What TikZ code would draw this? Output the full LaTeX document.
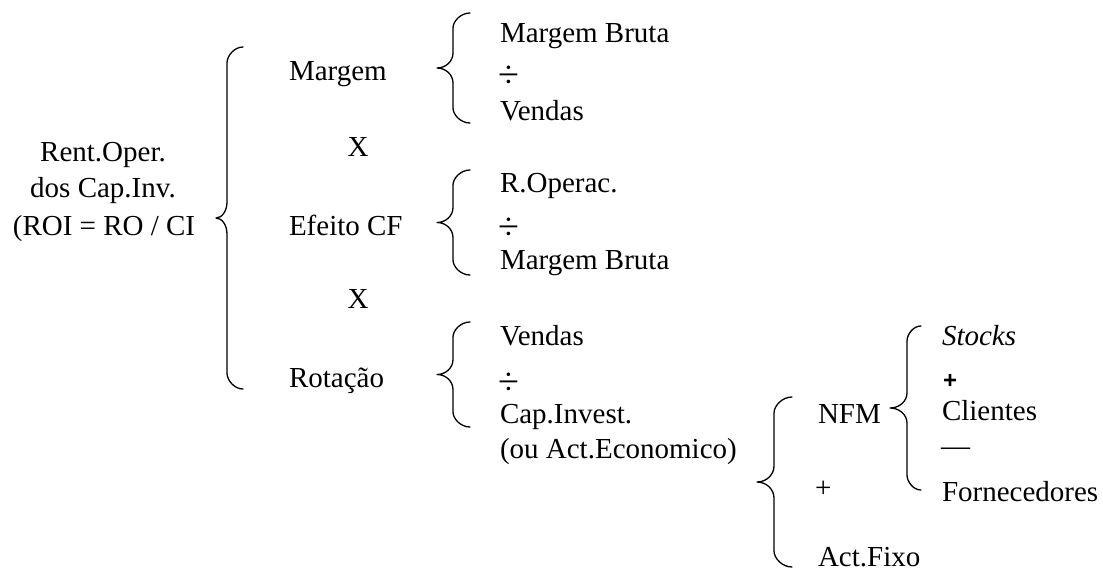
\documentclass[tikz,border=0pt]{standalone}
\usepackage{fontspec}
\setmainfont{Liberation Serif}
\newfontfamily\plusfont{Liberation Sans}
\newcommand{\wbrace}[6]{%
  \draw[braceline] (#1,#4) .. controls ({#2+0.45*(#1-#2)},#4) and (#2,{#4+0.55*#6}) .. (#2,{#4+#6})
    -- (#2,{(#4+#5)/2-#6})
    .. controls (#2,{(#4+#5)/2-0.45*#6}) and ({#3+0.55*(#2-#3)},{(#4+#5)/2}) .. (#3,{(#4+#5)/2})
    .. controls ({#3+0.55*(#2-#3)},{(#4+#5)/2}) and (#2,{(#4+#5)/2+0.45*#6}) .. (#2,{(#4+#5)/2+#6})
    -- (#2,{#5-#6})
    .. controls (#2,{#5-0.55*#6}) and ({#2+0.45*(#1-#2)},#5) .. (#1,#5);}
\begin{document}
\begin{tikzpicture}[x=1pt,y=-1pt,
  braceline/.style={line width=1.3pt,line cap=round,line join=round},
  lbl/.style={inner sep=0pt,outer sep=0pt,font=\fontsize{29}{35}\selectfont,anchor=base west},
  ctr/.style={lbl,anchor=base},
  divsign/.style={inner sep=0pt,outer sep=0pt,font=\fontsize{38}{40}\selectfont,anchor=west}]
\useasboundingbox (0,0) rectangle (1103,571);
% left title
\node[ctr] (t1) at (103,161) {Rent.Oper.};
\node[ctr] (t2) at (103,197) {dos Cap.Inv.};
\node[ctr] (t3) at (104,235) {(ROI = RO / CI};
% main brace
\wbrace{243}{227}{216}{47}{389}{16}
\node[lbl] (mg) at (289,80) {Margem};
\node[ctr] (x1) at (358,156) {X};
\node[lbl] (ef) at (289,235) {Efeito CF};
\node[ctr] (x2) at (358,308) {X};
\node[lbl] (ro) at (289,387) {Rotação};
% Margem brace
\wbrace{470}{453}{437}{13}{123}{15}
\node[lbl] (a1) at (500,42) {Margem Bruta};
\node[divsign] (a2) at (498,77) {÷};
\node[lbl] (a3) at (500,120) {Vendas};
% Efeito CF brace
\wbrace{470}{453}{437}{170}{275}{15}
\node[lbl] (b1) at (500,192) {R.Operac.};
\node[divsign] (b2) at (498,229) {÷};
\node[lbl] (b3) at (500,269) {Margem Bruta};
% Rotacao brace
\wbrace{470}{453}{437}{322}{427}{15}
\node[lbl] (c1) at (500,345) {Vendas};
\node[divsign] (c2) at (498,384) {÷};
\node[lbl] (c3) at (500,423) {Cap.Invest.};
\node[lbl] (c4) at (500,458) {(ou Act.Economico)};
% Cap.Invest brace
\wbrace{792}{774}{757}{397}{567}{16}
\node[lbl] (d1) at (818,423) {NFM};
\node[lbl] (d2) at (815,497) {+};
\node[lbl] (d3) at (818,566) {Act.Fixo};
% NFM brace
\wbrace{921}{907}{890}{326}{490}{15}
\node[lbl,font=\fontsize{29}{35}\selectfont\itshape] (e1) at (942,345) {Stocks};
\node[inner sep=0pt,font=\plusfont\bfseries\fontsize{24}{28}\selectfont] (e2) at (950,381) {+};
\node[lbl] (e3) at (942,420) {Clientes};
\node[lbl] (e4) at (941,455) {—};
\node[lbl] (e5) at (942,501) {Fornecedores};
\end{tikzpicture}
\end{document}
